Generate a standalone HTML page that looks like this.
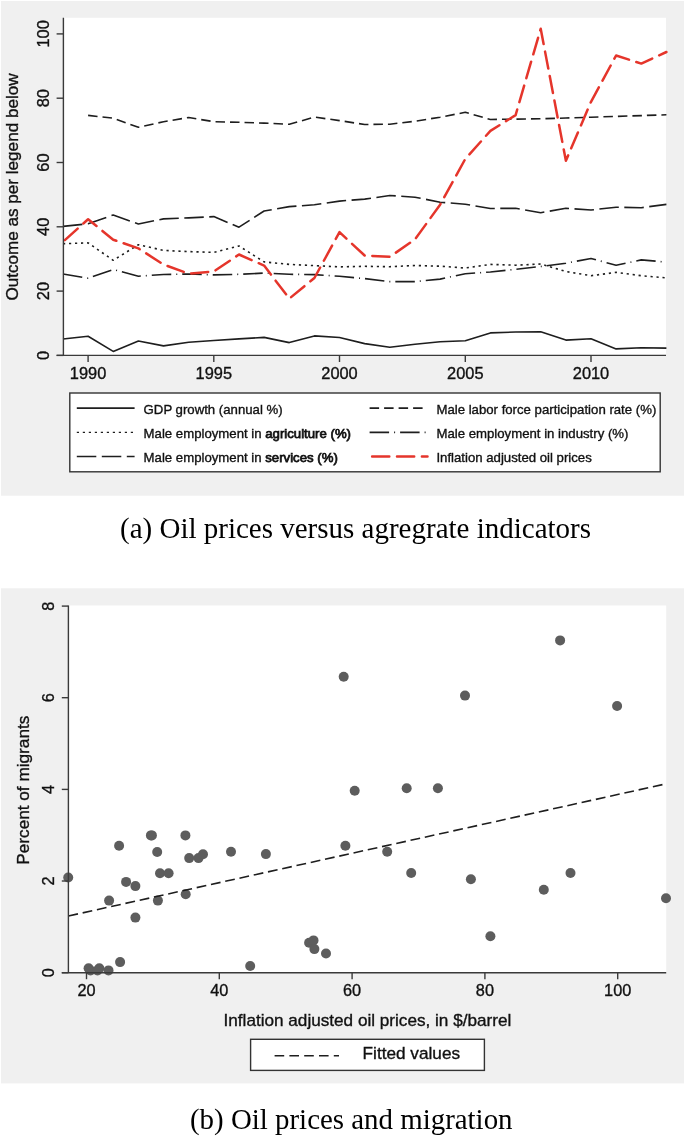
<!DOCTYPE html><html><head><meta charset="utf-8"><style>html,body{margin:0;padding:0;background:#fff;}svg{display:block}</style></head><body>
<svg style="will-change:transform" width="685" height="1136" viewBox="0 0 685 1136">
<rect width="685" height="1136" fill="#fff"/>
<rect x="1" y="1" width="683" height="494.7" fill="#f0f0f0"/>
<rect x="63.4" y="17.8" width="602.6" height="337.6" fill="#fff"/>
<g fill="none" stroke-linejoin="round">
<polyline points="63.0,339.0 88.1,336.3 113.2,351.4 138.4,341.0 163.5,345.9 188.7,342.2 213.8,340.5 239.0,338.9 264.1,337.4 289.3,342.6 314.4,335.9 339.5,337.5 364.7,343.6 389.8,347.3 415.0,344.2 440.1,341.8 465.3,340.7 490.4,332.9 515.6,332.0 540.7,331.7 565.9,340.1 591.0,338.7 616.1,348.9 641.3,347.8 666.4,348.1" stroke="#1e1e1e" stroke-width="1.6"/>
<polyline points="88.1,115.4 113.2,118.2 138.4,127.3 163.5,121.7 188.7,117.5 213.8,121.7 239.0,122.3 264.1,123.1 289.3,124.3 314.4,117.1 339.5,120.6 364.7,124.5 389.8,124.2 415.0,121.2 440.1,117.2 465.3,112.3 490.4,119.5 515.6,119.1 540.7,118.8 565.9,118.0 591.0,117.2 616.1,116.4 641.3,115.6 666.4,114.8" stroke="#1e1e1e" stroke-width="1.6" stroke-dasharray="9.5 5"/>
<polyline points="63.0,243.7 88.1,242.9 113.2,260.3 138.4,244.7 163.5,250.4 188.7,251.6 213.8,252.4 239.0,246.0 264.1,261.9 289.3,264.4 314.4,265.6 339.5,266.9 364.7,266.3 389.8,266.7 415.0,265.5 440.1,266.2 465.3,268.0 490.4,264.4 515.6,265.2 540.7,264.0 565.9,271.5 591.0,275.7 616.1,272.4 641.3,275.7 666.4,277.9" stroke="#1e1e1e" stroke-width="1.6" stroke-dasharray="2.2 3.8"/>
<polyline points="63.0,274.0 88.1,278.2 113.2,269.5 138.4,276.2 163.5,274.5 188.7,274.0 213.8,274.9 239.0,274.3 264.1,273.1 289.3,274.3 314.4,274.6 339.5,276.3 364.7,278.6 389.8,281.6 415.0,281.6 440.1,279.1 465.3,273.7 490.4,272.0 515.6,269.3 540.7,266.5 565.9,263.2 591.0,258.5 616.1,265.2 641.3,259.9 666.4,262.1" stroke="#1e1e1e" stroke-width="1.6" stroke-dasharray="19.5 5 1 5"/>
<polyline points="63.0,226.4 88.1,223.8 113.2,215.0 138.4,224.0 163.5,218.9 188.7,217.9 213.8,216.6 239.0,227.2 264.1,211.0 289.3,206.6 314.4,204.8 339.5,201.1 364.7,199.1 389.8,195.5 415.0,197.2 440.1,202.2 465.3,204.2 490.4,208.5 515.6,208.3 540.7,212.7 565.9,208.3 591.0,210.0 616.1,207.2 641.3,207.7 666.4,204.4" stroke="#1e1e1e" stroke-width="1.6" stroke-dasharray="19.5 5.5"/>
<polyline points="63.0,241.8 88.1,219.2 113.2,239.7 138.4,248.4 163.5,264.5 188.7,273.7 213.8,271.5 239.0,254.5 264.1,265.6 289.3,298.6 314.4,278.0 339.5,232.1 364.7,255.6 389.8,256.8 415.0,239.4 440.1,204.7 465.3,158.9 490.4,130.9 515.6,115.1 540.7,28.8 565.9,160.7 591.0,101.8 616.1,55.5 641.3,63.6 666.4,52.0" stroke="#e5352b" stroke-width="2.5" stroke-linecap="round" stroke-dasharray="17.2 7.7" stroke-dashoffset="-2.5"/>
</g>
<g stroke="#3a3a3a" stroke-width="1.4" fill="none">
<line x1="63.4" y1="17.8" x2="63.4" y2="355.5"/>
<line x1="56.6" y1="355.4" x2="666" y2="355.4"/>
<line x1="56.6" y1="355.4" x2="63.4" y2="355.4"/>
<line x1="56.6" y1="291.1" x2="63.4" y2="291.1"/>
<line x1="56.6" y1="226.8" x2="63.4" y2="226.8"/>
<line x1="56.6" y1="162.5" x2="63.4" y2="162.5"/>
<line x1="56.6" y1="98.2" x2="63.4" y2="98.2"/>
<line x1="56.6" y1="33.9" x2="63.4" y2="33.9"/>
<line x1="88.1" y1="355.4" x2="88.1" y2="362"/>
<line x1="213.8" y1="355.4" x2="213.8" y2="362"/>
<line x1="339.5" y1="355.4" x2="339.5" y2="362"/>
<line x1="465.3" y1="355.4" x2="465.3" y2="362"/>
<line x1="591.0" y1="355.4" x2="591.0" y2="362"/>
</g>
<g style="font-family:'Liberation Sans',sans-serif;stroke:#111;stroke-width:0.35px" font-size="16.4" fill="#111" text-anchor="middle">
<text x="49.3" y="355.4" transform="rotate(-90 49.3 355.4)">0</text>
<text x="49.3" y="291.1" transform="rotate(-90 49.3 291.1)">20</text>
<text x="49.3" y="226.8" transform="rotate(-90 49.3 226.8)">40</text>
<text x="49.3" y="162.5" transform="rotate(-90 49.3 162.5)">60</text>
<text x="49.3" y="98.2" transform="rotate(-90 49.3 98.2)">80</text>
<text x="49.3" y="33.9" transform="rotate(-90 49.3 33.9)">100</text>
<text x="88.1" y="379.2">1990</text>
<text x="213.8" y="379.2">1995</text>
<text x="339.5" y="379.2">2000</text>
<text x="465.3" y="379.2">2005</text>
<text x="591.0" y="379.2">2010</text>
</g>
<text style="font-family:'Liberation Sans',sans-serif;stroke:#111;stroke-width:0.35px" font-size="17.1" fill="#111" text-anchor="middle" x="17.8" y="187" transform="rotate(-90 17.8 187)">Outcome as per legend below</text>
<rect x="69.8" y="393" width="590.4" height="78.8" fill="#fff" stroke="#333" stroke-width="1.4"/>
<line x1="76.8" y1="408.1" x2="134.6" y2="408.1" stroke="#1e1e1e" stroke-width="1.6"/>
<line x1="76.8" y1="432.4" x2="134.6" y2="432.4" stroke="#1e1e1e" stroke-width="1.4" stroke-dasharray="2.2 3.8"/>
<line x1="76.8" y1="456.5" x2="134.6" y2="456.5" stroke="#1e1e1e" stroke-width="1.6" stroke-dasharray="19.5 5.5"/>
<line x1="369.6" y1="408.1" x2="427.5" y2="408.1" stroke="#1e1e1e" stroke-width="1.6" stroke-dasharray="9.5 5"/>
<line x1="369.6" y1="432.4" x2="427.5" y2="432.4" stroke="#1e1e1e" stroke-width="1.6" stroke-dasharray="19.5 5 1 5"/>
<line x1="369.6" y1="456.5" x2="427.5" y2="456.5" stroke="#e5352b" stroke-width="2.5" stroke-linecap="round" stroke-dasharray="17.2 7.7" stroke-dashoffset="-2.5"/>
<g style="font-family:'Liberation Sans',sans-serif;stroke:#111;stroke-width:0.35px" font-size="13.2" fill="#111">
<text x="143.6" y="413.6">GDP growth (annual %)</text>
<text x="143.6" y="437.7">Male employment in <tspan style="stroke-width:0.75px">agriculture (%)</tspan></text>
<text x="143.6" y="461.6">Male employment in <tspan style="stroke-width:0.75px">services (%)</tspan></text>
<text x="436.4" y="413.6">Male labor force participation rate (%)</text>
<text x="436.4" y="437.7">Male employment in industry (%)</text>
<text x="436.4" y="461.6">Inflation adjusted oil prices</text>
</g>
<text style="font-family:'Liberation Serif',serif" font-size="29.0" fill="#000" x="120" y="537.6">(a) Oil prices versus agregrate indicators</text>
<rect x="1" y="588.3" width="683" height="495.1" fill="#f0f0f0"/>
<rect x="68.4" y="605.5" width="597.8" height="367.2" fill="#fff"/>
<g fill="#5d5d5d">
<circle cx="68.2" cy="877.5" r="5.0"/>
<circle cx="88.6" cy="968.2" r="5.0"/>
<circle cx="90.5" cy="970.5" r="5.0"/>
<circle cx="99.3" cy="968.2" r="5.0"/>
<circle cx="97.5" cy="970.5" r="5.0"/>
<circle cx="108.5" cy="970.4" r="5.0"/>
<circle cx="109.1" cy="900.6" r="5.0"/>
<circle cx="120.1" cy="962.1" r="5.0"/>
<circle cx="119.1" cy="845.7" r="5.0"/>
<circle cx="126.1" cy="881.9" r="5.0"/>
<circle cx="135.4" cy="886.1" r="5.0"/>
<circle cx="135.4" cy="917.6" r="5.0"/>
<circle cx="150.9" cy="835.4" r="5.0"/>
<circle cx="151.9" cy="835.4" r="5.0"/>
<circle cx="157.2" cy="852.0" r="5.0"/>
<circle cx="160.0" cy="873.3" r="5.0"/>
<circle cx="168.6" cy="873.3" r="5.0"/>
<circle cx="157.9" cy="900.6" r="5.0"/>
<circle cx="185.4" cy="835.4" r="5.0"/>
<circle cx="189.2" cy="858.1" r="5.0"/>
<circle cx="198.5" cy="858.1" r="5.0"/>
<circle cx="203.0" cy="854.3" r="5.0"/>
<circle cx="185.7" cy="894.3" r="5.0"/>
<circle cx="231.0" cy="851.8" r="5.0"/>
<circle cx="250.2" cy="966.0" r="5.0"/>
<circle cx="265.9" cy="854.1" r="5.0"/>
<circle cx="309.1" cy="942.7" r="5.0"/>
<circle cx="313.5" cy="940.4" r="5.0"/>
<circle cx="314.4" cy="949.1" r="5.0"/>
<circle cx="326.0" cy="953.5" r="5.0"/>
<circle cx="343.7" cy="676.7" r="5.0"/>
<circle cx="345.4" cy="845.7" r="5.0"/>
<circle cx="354.7" cy="790.8" r="5.0"/>
<circle cx="387.2" cy="851.7" r="5.0"/>
<circle cx="406.7" cy="788.3" r="5.0"/>
<circle cx="411.2" cy="873.0" r="5.0"/>
<circle cx="437.9" cy="788.3" r="5.0"/>
<circle cx="465.0" cy="695.6" r="5.0"/>
<circle cx="470.9" cy="879.3" r="5.0"/>
<circle cx="490.4" cy="936.3" r="5.0"/>
<circle cx="543.8" cy="889.7" r="5.0"/>
<circle cx="560.1" cy="640.4" r="5.0"/>
<circle cx="570.5" cy="873.0" r="5.0"/>
<circle cx="617.1" cy="706.0" r="5.0"/>
<circle cx="666.0" cy="898.3" r="5.0"/>
</g>
<line x1="68.4" y1="916.0" x2="666.2" y2="783.8" stroke="#1e1e1e" stroke-width="1.6" stroke-dasharray="9.8 4.8"/>
<g stroke="#3a3a3a" stroke-width="1.4" fill="none">
<line x1="68.4" y1="605.5" x2="68.4" y2="973"/>
<line x1="61.8" y1="972.7" x2="666.2" y2="972.7"/>
<line x1="61.8" y1="972.7" x2="68.4" y2="972.7"/>
<line x1="61.8" y1="881.0" x2="68.4" y2="881.0"/>
<line x1="61.8" y1="789.4" x2="68.4" y2="789.4"/>
<line x1="61.8" y1="697.7" x2="68.4" y2="697.7"/>
<line x1="61.8" y1="606.1" x2="68.4" y2="606.1"/>
<line x1="86.5" y1="972.7" x2="86.5" y2="979.2"/>
<line x1="219.3" y1="972.7" x2="219.3" y2="979.2"/>
<line x1="352.1" y1="972.7" x2="352.1" y2="979.2"/>
<line x1="484.9" y1="972.7" x2="484.9" y2="979.2"/>
<line x1="617.7" y1="972.7" x2="617.7" y2="979.2"/>
</g>
<g style="font-family:'Liberation Sans',sans-serif;stroke:#111;stroke-width:0.35px" font-size="16.3" fill="#111" text-anchor="middle">
<text x="53.6" y="972.7" transform="rotate(-90 53.6 972.7)">0</text>
<text x="53.6" y="881.0" transform="rotate(-90 53.6 881.0)">2</text>
<text x="53.6" y="789.4" transform="rotate(-90 53.6 789.4)">4</text>
<text x="53.6" y="697.7" transform="rotate(-90 53.6 697.7)">6</text>
<text x="53.6" y="606.1" transform="rotate(-90 53.6 606.1)">8</text>
<text x="86.5" y="996.2">20</text>
<text x="219.3" y="996.2">40</text>
<text x="352.1" y="996.2">60</text>
<text x="484.9" y="996.2">80</text>
<text x="617.7" y="996.2">100</text>
</g>
<text style="font-family:'Liberation Sans',sans-serif;stroke:#111;stroke-width:0.35px" font-size="17.2" fill="#111" text-anchor="middle" x="29.4" y="790.2" transform="rotate(-90 29.4 790.2)">Percent of migrants</text>
<text style="font-family:'Liberation Sans',sans-serif;stroke:#111;stroke-width:0.35px" font-size="17.15" fill="#111" text-anchor="middle" x="367.4" y="1026.3">Inflation adjusted oil prices, in $/barrel</text>
<rect x="250.6" y="1039.3" width="233.8" height="31.1" fill="#fff" stroke="#333" stroke-width="1.4"/>
<line x1="274.6" y1="1055.7" x2="339" y2="1055.7" stroke="#1e1e1e" stroke-width="1.6" stroke-dasharray="9.6 5.2"/>
<text style="font-family:'Liberation Sans',sans-serif;stroke:#111;stroke-width:0.35px" font-size="17.2" fill="#111" x="362.6" y="1058.8">Fitted values</text>
<text style="font-family:'Liberation Serif',serif" font-size="28.9" fill="#000" x="190" y="1129.4">(b) Oil prices and migration</text>
</svg></body></html>
